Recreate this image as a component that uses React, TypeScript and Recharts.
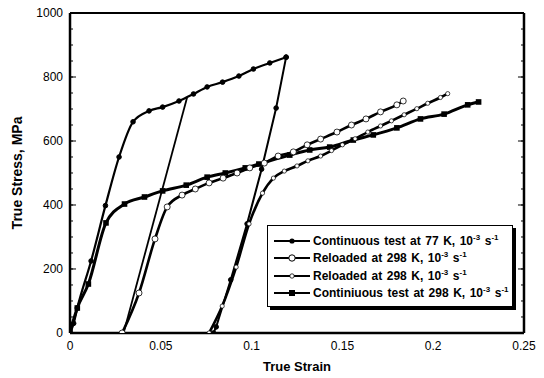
import React from 'react';
import { LineChart, Line, XAxis, YAxis } from 'recharts';

// strain / stress
const c77Strain = [0, 0.002, 0.004, 0.0116, 0.0195, 0.027, 0.0347, 0.0435, 0.051, 0.06, 0.068, 0.0755, 0.084, 0.093, 0.101, 0.11, 0.119];
const c77Stress = [0, 30, 78, 225, 398, 550, 660, 694, 706, 725, 747, 769, 784, 803, 825, 844, 862];

const unloadAStrain = [0.0645, 0.0295];
const unloadAStress = [737, 0];

const unloadBStrain = [0.119, 0.1135, 0.1055, 0.0975, 0.0885, 0.0805, 0.079];
const unloadBStress = [862, 703, 512, 341, 166, 19, 0];

const reloadAStrain = [0.0287, 0.038, 0.0468, 0.0535, 0.0617, 0.069, 0.0766, 0.0843, 0.092, 0.099, 0.107, 0.1146, 0.123, 0.1306, 0.138, 0.147, 0.155, 0.163, 0.171, 0.18, 0.1835];
const reloadAStress = [0, 125, 294, 394, 431, 450, 469, 484, 500, 516, 531, 553, 566, 588, 606, 628, 650, 669, 691, 713, 725];

const reloadBStrain = [0.0766, 0.0838, 0.0915, 0.0986, 0.106, 0.112, 0.118, 0.125, 0.131, 0.138, 0.144, 0.15, 0.157, 0.164, 0.171, 0.177, 0.184, 0.191, 0.197, 0.204, 0.208];
const reloadBStress = [0, 84, 206, 341, 437, 484, 506, 522, 538, 553, 570, 588, 607, 628, 647, 663, 682, 701, 718, 736, 748];

const c298Strain = [0, 0.004, 0.0101, 0.0198, 0.03, 0.041, 0.051, 0.064, 0.0755, 0.0855, 0.0965, 0.104, 0.121, 0.132, 0.143, 0.156, 0.167, 0.18, 0.193, 0.206, 0.219, 0.225];
const c298Stress = [3, 78, 153, 344, 403, 425, 444, 462, 487, 500, 516, 528, 556, 572, 581, 603, 619, 641, 669, 684, 713, 722];

const xMajorTicks = [0, 0.05, 0.1, 0.15, 0.2, 0.25];
const xMinorTicks = [0, 0.01, 0.02, 0.03, 0.04, 0.05, 0.06, 0.07, 0.08, 0.09, 0.1, 0.11, 0.12, 0.13, 0.14, 0.15, 0.16, 0.17, 0.18, 0.19, 0.2, 0.21, 0.22, 0.23, 0.24, 0.25];
const yMajorTicks = [0, 200, 400, 600, 800, 1000];
const yMinorTicks = [0, 50, 100, 150, 200, 250, 300, 350, 400, 450, 500, 550, 600, 650, 700, 750, 800, 850, 900, 950, 1000];

const legendLabels = [
  'Continuous test at 77 K,',
  'Reloaded at 298 K,',
  'Reloaded at 298 K,',
  'Continiuous test at 298 K,',
];

const zip = (xs: number[], ys: number[]) => xs.map((x, i) => ({ x, y: ys[i] }));

const FONT = '"Liberation Sans", Arial, Helvetica, sans-serif';
const tickStyle = { fontFamily: FONT, fontSize: 12, fill: '#000' };
const THIN = 0.01; // axes drawn with (almost) no reserved space

// inward tick mark drawn in place of a tick label (tickSize/tickMargin 0 -> x,y sit on the axis)
const tickMark = (dx: number, dy: number) => (p: any) => (
  <line x1={p.x} y1={p.y} x2={p.x + dx} y2={p.y + dy} stroke="#000" strokeWidth={1} />
);

const squareDot = (p: any) => (
  <rect key={`sq-${p.index}`} x={p.cx - 2.8} y={p.cy - 2.8} width={5.6} height={5.6} fill="#000" />
);

const LegendSymbol = ({ kind }: { kind: number }) => (
  <svg width={38} height={10} style={{ display: 'block', flex: 'none' }}>
    <line x1={1} y1={5} x2={37} y2={5} stroke="#000" strokeWidth={2} />
    {kind === 0 && <circle cx={19} cy={5} r={2.6} fill="#000" />}
    {kind === 1 && <circle cx={19} cy={5} r={3.2} fill="#fff" stroke="#000" strokeWidth={1} />}
    {kind === 2 && <circle cx={19} cy={5} r={2.2} fill="#fff" stroke="#000" strokeWidth={0.8} />}
    {kind === 3 && <rect x={16} y={2} width={6} height={6} fill="#000" />}
  </svg>
);

const LegendBox = () => (
  <div
    style={{
      position: 'absolute',
      left: 267,
      top: 225,
      width: 244,
      height: 74,
      border: '1.5px solid #000',
      boxShadow: '3px 3px 0 #000',
      background: '#fff',
      fontFamily: FONT,
      fontWeight: 'bold',
      fontSize: 12,
      paddingTop: 6,
      boxSizing: 'content-box',
    }}
  >
    {legendLabels.map((label, i) => (
      <div key={i} style={{ display: 'flex', alignItems: 'center', height: 17.5, paddingLeft: 5, whiteSpace: 'nowrap' }}>
        <LegendSymbol kind={i} />
        <span style={{ marginLeft: 2, lineHeight: '12px', wordSpacing: 1.2 }}>
          {label} 10<sup style={{ fontSize: 8, lineHeight: 0 }}>-3</sup> s<sup style={{ fontSize: 8, lineHeight: 0 }}>-1</sup>
        </span>
      </div>
    ))}
  </div>
);

export default function App() {
  const axisCommon = { stroke: '#000', allowDataOverflow: true, interval: 0 as const };
  const tickAxis = { ...axisCommon, tickSize: 0, tickMargin: 0, tickLine: false, axisLine: false };

  return (
    <div style={{ position: 'absolute', left: 0, top: 0, width: 544, height: 378, background: '#fff' }}>
      <LineChart width={544} height={378} margin={{ top: 13, right: 20, bottom: 45, left: 70 }}>
        {/* labelled axes */}
        <XAxis
          {...axisCommon}
          xAxisId="x"
          type="number"
          dataKey="x"
          domain={[0, 0.25]}
          ticks={xMajorTicks}
          height={THIN}
          tickSize={0}
          tickMargin={8}
          tickLine={false}
          axisLine={{ stroke: '#000', strokeWidth: 2.5 }}
          tick={tickStyle}
          label={{ value: 'True  Strain', position: 'bottom', offset: 29, style: { fontFamily: FONT, fontWeight: 'bold', fontSize: 13, fill: '#000', whiteSpace: 'pre' } }}
        />
        <YAxis
          {...axisCommon}
          yAxisId="y"
          type="number"
          domain={[0, 1000]}
          ticks={yMajorTicks}
          width={THIN}
          tickSize={0}
          tickMargin={7}
          tickLine={false}
          axisLine={{ stroke: '#000', strokeWidth: 2.5 }}
          tick={tickStyle}
          label={{ value: 'True  Stress,  MPa', angle: -90, position: 'left', offset: 53, style: { textAnchor: 'middle', fontFamily: FONT, fontWeight: 'bold', fontSize: 14, fill: '#000', whiteSpace: 'pre' } }}
        />

        {/* inward tick marks and the top/right frame */}
        <XAxis {...tickAxis} xAxisId="bMinor" type="number" domain={[0, 0.25]} ticks={xMinorTicks} height={THIN} tick={tickMark(0, -3)} />
        <XAxis {...tickAxis} xAxisId="bMajor" type="number" domain={[0, 0.25]} ticks={xMajorTicks} height={THIN} tick={tickMark(0, -6)} />
        <XAxis {...tickAxis} xAxisId="tMinor" orientation="top" type="number" domain={[0, 0.25]} ticks={xMinorTicks} height={THIN} tick={tickMark(0, 3)} axisLine={{ stroke: '#000', strokeWidth: 2 }} />
        <XAxis {...tickAxis} xAxisId="tMajor" orientation="top" type="number" domain={[0, 0.25]} ticks={xMajorTicks} height={THIN} tick={tickMark(0, 6)} />
        <YAxis {...tickAxis} yAxisId="lMinor" type="number" domain={[0, 1000]} ticks={yMinorTicks} width={THIN} tick={tickMark(3, 0)} />
        <YAxis {...tickAxis} yAxisId="lMajor" type="number" domain={[0, 1000]} ticks={yMajorTicks} width={THIN} tick={tickMark(6, 0)} />
        <YAxis {...tickAxis} yAxisId="rMinor" orientation="right" type="number" domain={[0, 1000]} ticks={yMinorTicks} width={THIN} tick={tickMark(-3, 0)} axisLine={{ stroke: '#000', strokeWidth: 2.5 }} />
        <YAxis {...tickAxis} yAxisId="rMajor" orientation="right" type="number" domain={[0, 1000]} ticks={yMajorTicks} width={THIN} tick={tickMark(-6, 0)} />

        <Line
          xAxisId="x" yAxisId="y" data={zip(unloadAStrain, unloadAStress)} dataKey="y"
          type="linear" stroke="#000" strokeWidth={1.8} dot={false} isAnimationActive={false}
        />
        <Line
          xAxisId="x" yAxisId="y" data={zip(unloadBStrain, unloadBStress)} dataKey="y"
          type="linear" stroke="#000" strokeWidth={2} dot={{ r: 2.3, fill: '#000', stroke: '#000', strokeWidth: 1 }} isAnimationActive={false}
        />
        <Line
          xAxisId="x" yAxisId="y" data={zip(c298Strain, c298Stress)} dataKey="y"
          type="monotone" stroke="#000" strokeWidth={3} dot={squareDot} isAnimationActive={false}
        />
        <Line
          xAxisId="x" yAxisId="y" data={zip(c77Strain, c77Stress)} dataKey="y"
          type="monotone" stroke="#000" strokeWidth={2.2} dot={{ r: 2.3, fill: '#000', stroke: '#000', strokeWidth: 1 }} isAnimationActive={false}
        />
        <Line
          xAxisId="x" yAxisId="y" data={zip(reloadAStrain, reloadAStress)} dataKey="y"
          type="monotone" stroke="#000" strokeWidth={2.6} dot={{ r: 3, fill: '#fff', stroke: '#000', strokeWidth: 0.8 }} isAnimationActive={false}
        />
        <Line
          xAxisId="x" yAxisId="y" data={zip(reloadBStrain, reloadBStress)} dataKey="y"
          type="monotone" stroke="#000" strokeWidth={2.6} dot={{ r: 2.1, fill: '#fff', stroke: '#000', strokeWidth: 0.7 }} isAnimationActive={false}
        />
      </LineChart>
      <LegendBox />
    </div>
  );
}
